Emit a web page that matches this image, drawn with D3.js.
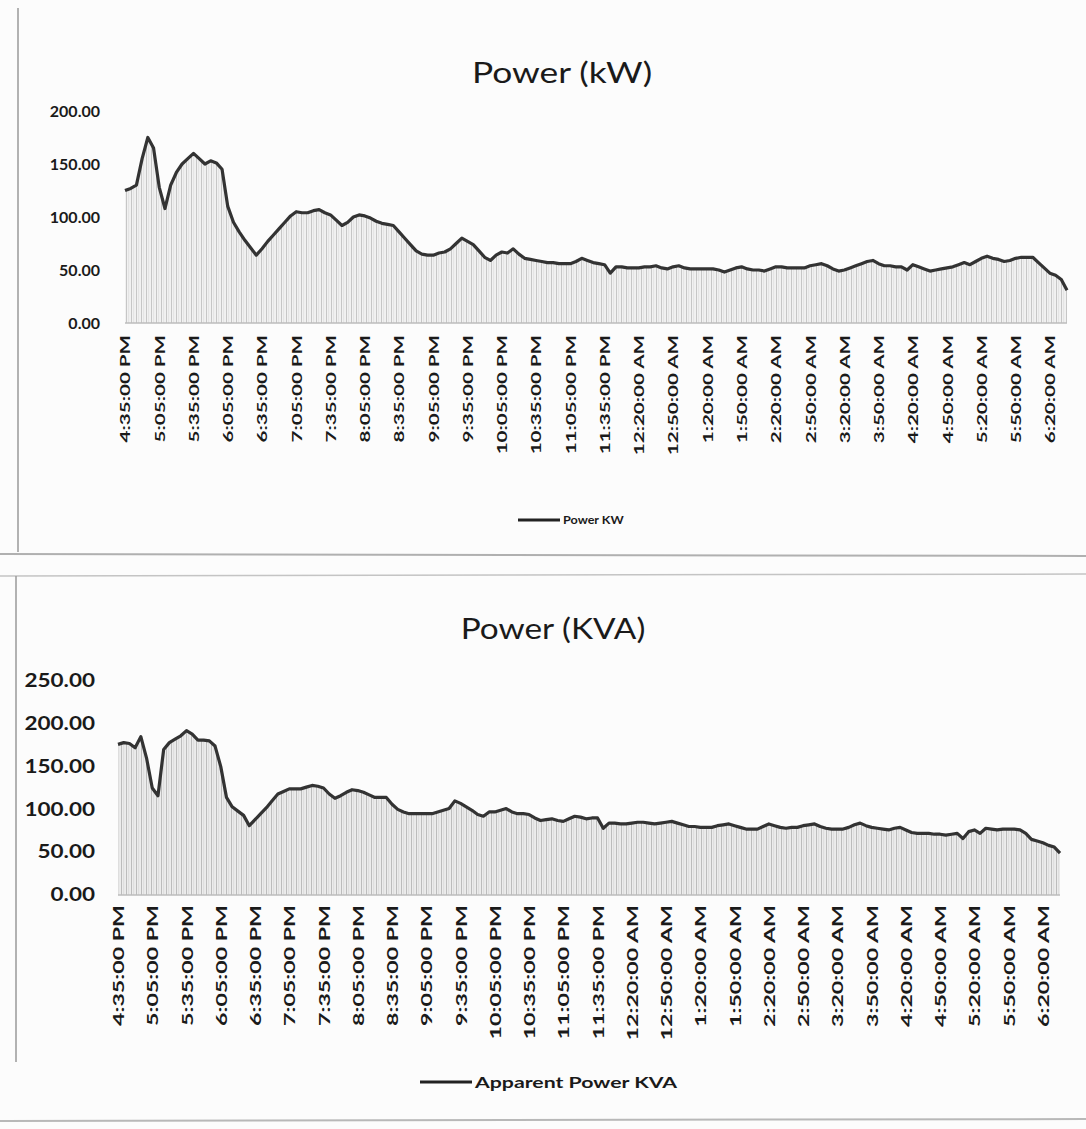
<!DOCTYPE html>
<html><head><meta charset="utf-8">
<script src="https://cdn.jsdelivr.net/npm/d3@7"></script>
<style>
html,body{margin:0;padding:0;background:#fcfcfc;}
svg{display:block;}
text{font-family:Lato,"Open Sans",sans-serif;fill:#1a1a1a;}
</style></head><body>
<script>
// ---- data ----
const tickLabels = ["4:35:00 PM","5:05:00 PM","5:35:00 PM","6:05:00 PM","6:35:00 PM","7:05:00 PM","7:35:00 PM","8:05:00 PM","8:35:00 PM","9:05:00 PM","9:35:00 PM","10:05:00 PM","10:35:00 PM","11:05:00 PM","11:35:00 PM","12:20:00 AM","12:50:00 AM","1:20:00 AM","1:50:00 AM","2:20:00 AM","2:50:00 AM","3:20:00 AM","3:50:00 AM","4:20:00 AM","4:50:00 AM","5:20:00 AM","5:50:00 AM","6:20:00 AM"];
const tickEvery = 6;
const powerKW = [125,127,130,155,175,165,128,108,130,142,150,155,160,155,150,153,151,145,110,95,86,78,71,64,70,77,83,89,95,101,105,104,104,106,107,104,102,97,92,95,100,102,101,99,96,94,93,92,86,80,74,68,65,64,64,66,67,70,75,80,77,74,68,62,59,64,67,66,70,65,61,60,59,58,57,57,56,56,56,58,61,59,57,56,55,47,53,53,52,52,52,53,53,54,52,51,53,54,52,51,51,51,51,51,50,48,50,52,53,51,50,50,49,51,53,53,52,52,52,52,54,55,56,54,51,49,50,52,54,56,58,59,56,54,54,53,53,50,55,53,51,49,50,51,52,53,55,57,55,58,61,63,61,60,58,59,61,62,62,62,57,52,47,45,41,31];
const powerKVA = [176,178,177,172,185,160,125,116,170,178,182,186,192,188,181,181,180,174,150,114,103,98,93,81,88,95,102,110,118,121,124,124,124,126,128,127,125,118,113,116,120,123,122,120,117,114,114,114,106,100,97,95,95,95,95,95,97,99,101,110,107,103,99,94,92,97,97,99,101,97,95,95,94,90,87,88,89,87,86,89,92,91,89,90,90,78,84,84,83,83,84,85,85,84,83,84,85,86,84,82,80,80,79,79,79,81,82,83,81,79,77,77,77,80,83,81,79,78,79,79,81,82,83,80,78,77,77,77,79,82,84,81,79,78,77,76,78,79,76,73,72,72,72,71,71,70,71,72,66,74,76,72,78,77,76,77,77,77,76,72,65,63,61,58,56,49];
const yTicksKW = [0,50,100,150,200];
const yTicksKVA = [0,50,100,150,200,250];

const W = 1086, H = 1129;
const svg = d3.select("body").append("svg").attr("width", W).attr("height", H);

const defs = svg.append("defs");
function hatch(id, bg, fg){
  const p = defs.append("pattern").attr("id", id).attr("patternUnits","userSpaceOnUse")
    .attr("width", 5).attr("height", 40);
  p.append("rect").attr("width",5).attr("height",40).attr("fill", bg);
  p.append("rect").attr("x",1).attr("width",1).attr("height",40).attr("fill", fg);
  p.append("rect").attr("x",3.5).attr("width",0.6).attr("height",40).attr("fill", fg).attr("opacity",0.6);
}
hatch("h1", "#f1f1f1", "#c6c6c6");
hatch("h2", "#ececec", "#bcbcbc");

// frame lines (scanned page borders)
svg.append("line").attr("x1",18).attr("x2",18).attr("y1",8).attr("y2",552).attr("stroke","#9a9a9a").attr("stroke-width",1.5);
svg.append("line").attr("x1",0).attr("x2",W).attr("y1",554).attr("y2",556).attr("stroke","#b0b0b0").attr("stroke-width",2);
svg.append("line").attr("x1",0).attr("x2",W).attr("y1",576).attr("y2",574).attr("stroke","#c4c4c4").attr("stroke-width",1.5);
svg.append("line").attr("x1",16).attr("x2",16).attr("y1",576).attr("y2",1062).attr("stroke","#9a9a9a").attr("stroke-width",1.5);
svg.append("line").attr("x1",0).attr("x2",W).attr("y1",1121).attr("y2",1119).attr("stroke","#b8b8b8").attr("stroke-width",2);

function drawChart(cfg){
  const g = svg.append("g");
  const x = d3.scaleLinear().domain([0, cfg.values.length-1]).range([cfg.x0, cfg.x1]);
  const y = d3.scaleLinear().domain([0, cfg.yMax]).range([cfg.yBase, cfg.yTop]);

  g.append("text").attr("transform","translate("+cfg.titleX+","+cfg.titleY+") scale("+cfg.titleSX+",1)")
    .attr("text-anchor","middle").style("font-size", cfg.titleSize+"px").text(cfg.title);

  const area = d3.area().x((d,i)=>x(i)).y0(y(0)).y1(d=>y(d));
  const line = d3.line().x((d,i)=>x(i)).y(d=>y(d));
  g.append("path").datum(cfg.values).attr("d", area).attr("fill", "url(#"+cfg.pat+")");
  g.append("line").attr("x1",cfg.x0).attr("x2",cfg.x1).attr("y1",y(0)).attr("y2",y(0)).attr("stroke","#bdbdbd").attr("stroke-width",1.5);
  g.append("path").datum(cfg.values).attr("d", line).attr("fill","none")
    .attr("stroke","#333").attr("stroke-width",3.2).attr("stroke-linejoin","round");

  const ya = d3.axisLeft(y).tickValues(cfg.yTicks).tickFormat(d3.format(".2f")).tickSize(0).tickPadding(0);
  const yg = g.append("g").attr("transform","translate("+cfg.x0+",0)").call(ya);
  yg.select(".domain").remove();
  yg.selectAll("text").attr("x",0).attr("transform","translate("+(-cfg.yPad)+",0) scale("+cfg.ySX+",1)")
    .style("font-size", cfg.yFont+"px").style("font-weight","bold").attr("fill","#222");

  const tv = cfg.labels.map((l,i)=>i*tickEvery);
  const xa = d3.axisBottom(x).tickValues(tv).tickFormat((d,i)=>cfg.labels[i]).tickSize(0).tickPadding(0);
  const xg = g.append("g").attr("transform","translate(0,"+cfg.yBase+")").call(xa);
  xg.select(".domain").remove();
  xg.selectAll("text").attr("transform","rotate(-90) scale("+cfg.xSX+",1)").attr("text-anchor","end")
    .attr("x", -cfg.xLabPad/cfg.xSX).attr("y", 0).attr("dy","0.35em")
    .style("font-size", cfg.xFont+"px").style("font-weight","bold").attr("fill","#222");

  g.append("line").attr("x1",cfg.legX).attr("x2",cfg.legX+cfg.legLen).attr("y1",cfg.legY).attr("y2",cfg.legY)
    .attr("stroke","#222").attr("stroke-width",3);
  g.append("text").attr("transform","translate("+(cfg.legX+cfg.legLen+3)+","+cfg.legY+") scale("+cfg.legSX+",1)")
    .attr("dy","0.35em").style("font-size",cfg.legFont+"px").style("font-weight","bold").text(cfg.legText);
}

drawChart({values: powerKW, labels: tickLabels, yTicks: yTicksKW, yMax: 200,
  x0:125, x1:1067, yBase:323, yTop:111, pat:"h1",
  title:"Power (kW)", titleX:562, titleY:83, titleSize:29, titleSX:1.22,
  yPad:25, yFont:16, ySX:1.0, xFont:14, xSX:1.47, xLabPad:12,
  legX:518, legY:520, legLen:42, legFont:12, legSX:1.05, legText:"Power KW"});

drawChart({values: powerKVA, labels: tickLabels, yTicks: yTicksKVA, yMax: 250,
  x0:118, x1:1060, yBase:895, yTop:681, pat:"h2",
  title:"Power (KVA)", titleX:553, titleY:639, titleSize:29, titleSX:1.15,
  yPad:23, yFont:18, ySX:1.25, xFont:16, xSX:1.45, xLabPad:10,
  legX:420, legY:1082, legLen:52, legFont:16, legSX:1.33, legText:"Apparent Power KVA"});
</script>
</body></html>
